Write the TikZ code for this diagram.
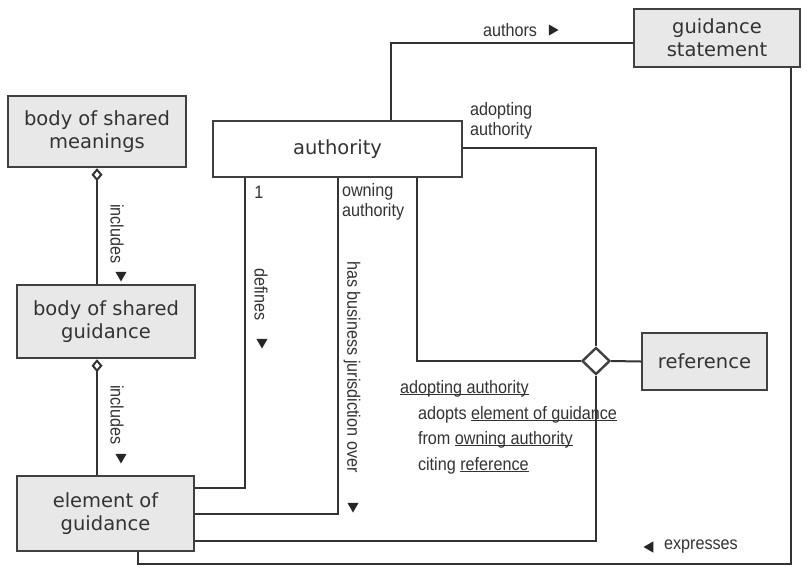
\documentclass[tikz,border=0pt]{standalone}
\usepackage{fontspec}
\setmainfont{DejaVu Sans}
\newfontfamily\lblfont{Liberation Sans}[FakeStretch=0.9]
\usetikzlibrary{shapes,arrows.meta,positioning}
\newcommand\ulbl[1]{\underline{\smash{#1}}}

\begin{document}
\begin{tikzpicture}[x=1pt, y=-1pt, line width=2pt, color=black!80]
    \tikzstyle{block} = [rectangle, draw=black!75, line width=2.4pt, fill=black!9, align=center, inner sep=0pt, font=\fontsize{19.5}{23}\selectfont]
    \tikzstyle{lbl} = [inner sep=1pt, align=left, font=\lblfont\fontsize{18}{20}\selectfont]
    \tikzstyle{pointer} = [regular polygon, regular polygon sides=3, fill=black!85, inner sep=0pt, minimum size=13pt]
    \tikzstyle{agg} = [{Diamond[open, length=13pt, width=11pt]}-]

    \useasboundingbox (0,0) rectangle (807,566);

    % classes
    \node [block, minimum width=178pt, minimum height=71pt] (meanings) at (97,131.5) {body of shared\\meanings};
    \node [block, minimum width=178pt, minimum height=73pt] (sguid) at (106,321.5) {body of shared\\guidance};
    \node [block, minimum width=177pt, minimum height=75pt] (element) at (105.5,513.5) {element of\\guidance};
    \node [block, fill=white, minimum width=249pt, minimum height=56pt] (authority) at (337.5,149) {authority};
    \node [block, minimum width=166pt, minimum height=58pt] (gstmt) at (717,38) {guidance\\statement};
    \node [block, minimum width=125pt, minimum height=57pt] (reference) at (704.5,361.5) {reference};
    \node [diamond, draw=black!75, line width=2.4pt, fill=white, inner sep=0pt, minimum width=28pt, minimum height=27pt] (assoc) at (596,361) {};

    % aggregations
    \draw [agg] (meanings.south) -- (meanings.south |- sguid.north);
    \draw [agg] (sguid.south -| meanings.south) -- (meanings.south |- element.north);

    % associations
    \draw ([xshift=-92.5pt]authority.south) |- ([yshift=25.5pt]element.east);
    \draw (authority.south) |- (element.east);
    \draw ([xshift=79.5pt]authority.south) |- (assoc.west);
    \draw ([yshift=1pt]authority.east) -| (assoc.north);
    \draw (assoc.east) -- (reference.west);
    \draw (assoc.south) |- ([yshift=-27.5pt]element.east);
    \draw ([xshift=53.5pt]authority.north) |- ([yshift=-5pt]gstmt.west);
    \coordinate (exbend) at (791,564);
    \draw ([xshift=32.5pt]element.south) |- (exbend) -- (exbend |- gstmt.south);

    % labels
    \node [lbl, rotate=-90, anchor=west] (inc1) at (117,202) {includes};
    \node [pointer, shape border rotate=180] (inc1p) at (121,275) {};
    \node [lbl, rotate=-90, anchor=west] (inc2) at (117,383) {includes};
    \node [pointer, shape border rotate=180] (inc2p) at (121,457) {};
    \node [lbl, anchor=center] (one) at (259,192) {1};
    \node [lbl, rotate=-90, anchor=west] (defines) at (261,266) {defines};
    \node [pointer, shape border rotate=180] (definesp) at (262,342) {};
    \node [lbl, anchor=north west] (owning) at (340,181) {owning\\authority};
    \node [lbl, rotate=-90, anchor=west] (juris) at (352,259) {has business jurisdiction over};
    \node [pointer, shape border rotate=180] (jurisp) at (353,506) {};
    \node [lbl, anchor=north west] (adopting) at (468,100) {adopting\\authority};
    \node [lbl, anchor=west] (authors) at (481,30) {authors};
    \node [pointer, shape border rotate=-90] (authorsp) at (552,30) {};
    \node [lbl, anchor=west] (expresses) at (662,547) {expresses};
    \node [pointer, shape border rotate=90] (expressesp) at (650,547) {};

    \node [lbl, anchor=base west] (adopt1) at (398,393) {\ulbl{adopting authority}};
    \node [lbl, anchor=base west] (adopt2) at (416,419) {adopts \ulbl{element of guidance}};
    \node [lbl, anchor=base west] (adopt3) at (416,444) {from \ulbl{owning authority}};
    \node [lbl, anchor=base west] (adopt4) at (416,470) {citing \ulbl{reference}};
\end{tikzpicture}
\end{document}
